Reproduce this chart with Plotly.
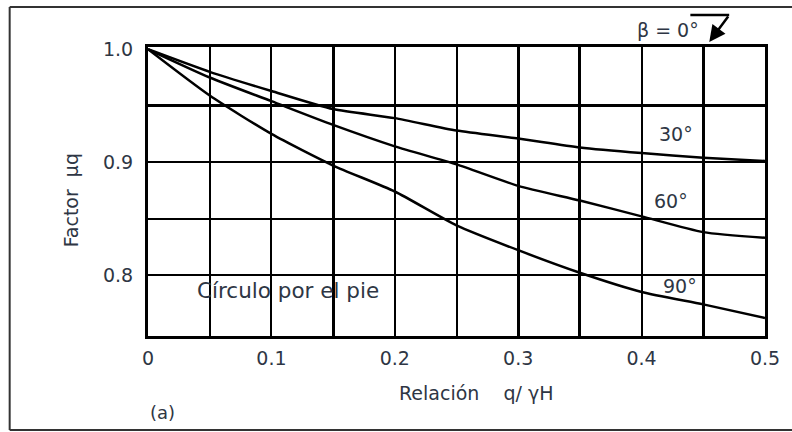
import plotly.graph_objects as go

# ---- data ----
q_ratio = [0, 0.05, 0.1, 0.15, 0.2, 0.25, 0.3, 0.35, 0.4, 0.45, 0.5]
mu_30 = [1.0, 0.980, 0.963, 0.947, 0.939, 0.928, 0.921, 0.913, 0.908, 0.904, 0.901]
mu_60 = [1.0, 0.975, 0.954, 0.933, 0.914, 0.898, 0.879, 0.866, 0.852, 0.838, 0.833]
mu_90 = [1.0, 0.959, 0.925, 0.897, 0.874, 0.844, 0.822, 0.802, 0.785, 0.774, 0.762]

x_tick_vals = [0, 0.1, 0.2, 0.3, 0.4, 0.5]
x_tick_text = ["0", "0.1", "0.2", "0.3", "0.4", "0.5"]
y_tick_vals = [0.8, 0.9, 1.0]
y_tick_text = ["0.8", "0.9", "1.0"]

x_grid_thin = [0.05, 0.1, 0.2, 0.25, 0.4]
x_grid_thick = [0.15, 0.3, 0.35, 0.45]
y_grid_thin = [0.8, 0.85, 0.9]
y_grid_thick = [0.95]

curve_labels = ["30°", "60°", "90°"]
label_x = [0.428, 0.424, 0.431]
label_y = [0.925, 0.866, 0.790]

TXT = "#2e3644"
FONT = "DejaVu Sans"
X_RANGE = [0, 0.5]
Y_RANGE = [0.746, 1.002]

fig = go.Figure()
for mu in (mu_30, mu_60, mu_90):
    fig.add_trace(go.Scatter(x=q_ratio, y=mu, mode="lines",
                             line=dict(color="black", width=2.5, shape="spline", smoothing=0.6),
                             showlegend=False, hoverinfo="skip"))

# thick grid lines through overlaid axes
fig.add_trace(go.Scatter(x=[None], y=[None], xaxis="x2", yaxis="y2", showlegend=False))

fig.update_layout(
    width=792, height=432,
    margin=dict(l=148, r=24, t=47, b=96),
    paper_bgcolor="white", plot_bgcolor="white",
    font=dict(family=FONT, size=19, color=TXT),
    xaxis=dict(range=X_RANGE, tickvals=x_tick_vals, ticktext=x_tick_text,
               showgrid=False, showline=True, linecolor="black", linewidth=3, mirror=True,
               ticks="outside", ticklen=3, tickcolor="rgba(0,0,0,0)", zeroline=False,
               minor=dict(tickvals=x_grid_thin, showgrid=True, gridcolor="black", gridwidth=1.8, ticks="")),
    yaxis=dict(range=Y_RANGE, tickvals=y_tick_vals, ticktext=y_tick_text,
               showgrid=False, showline=True, linecolor="black", linewidth=3, mirror=True,
               ticks="outside", ticklen=8, tickcolor="rgba(0,0,0,0)", zeroline=False,
               minor=dict(tickvals=y_grid_thin, showgrid=True, gridcolor="black", gridwidth=1.8, ticks="")),
    xaxis2=dict(range=X_RANGE, overlaying="x", tickvals=x_grid_thick, showticklabels=False,
                showgrid=True, gridcolor="black", gridwidth=3.2, zeroline=False, showline=False),
    yaxis2=dict(range=Y_RANGE, overlaying="y", tickvals=y_grid_thick, showticklabels=False,
                showgrid=True, gridcolor="black", gridwidth=3.2, zeroline=False, showline=False),
)

def px(X):
    return (X - 148) / 620.0

def py(Y):
    return (336 - Y) / 289.0

# outer frame (open on the right): top, left, bottom edges
for (xa, ya, xb, yb) in [(9, 7, 800, 7), (9, 7, 9, 430), (9, 430, 800, 430)]:
    fig.add_shape(type="line", xref="paper", yref="paper",
                  x0=px(xa), y0=py(ya), x1=px(xb), y1=py(yb),
                  line=dict(color="#333333", width=2))

for t, lx, ly in zip(curve_labels, label_x, label_y):
    fig.add_annotation(x=lx, y=ly, text=t, showarrow=False, xanchor="center", yanchor="middle",
                       font=dict(size=19, color=TXT))

def label(X, Y, text, size, **kw):
    fig.add_annotation(x=px(X), y=py(Y), xref="paper", yref="paper", text=text, showarrow=False,
                       xanchor="center", yanchor="middle", font=dict(size=size, color=TXT), **kw)

label(289, 290, "Círculo por el pie", 21.5)
label(163, 412, "(a)", 18)
label(478, 393, "Relación&nbsp;&nbsp;&nbsp;&nbsp;q/ γH", 19)
label(71, 200, "Factor&nbsp;&nbsp;µq", 19, textangle=-90)
label(671, 30, "β = 0°", 19)

# beta = 0 pointer
fig.add_shape(type="line", xref="paper", yref="paper",
              x0=px(693), y0=py(15), x1=px(732), y1=py(15), line=dict(color="black", width=2.5))
fig.add_annotation(x=px(712), y=py(42), xref="paper", yref="paper", ax=20, ay=-27,
                   text="", showarrow=True, arrowhead=2, arrowsize=1.3, arrowwidth=2.5, arrowcolor="black")

fig.write_html("out.html", config={"displayModeBar": False},
               post_script="document.body.style.margin='0';document.body.style.padding='0';document.body.style.overflow='hidden';")
